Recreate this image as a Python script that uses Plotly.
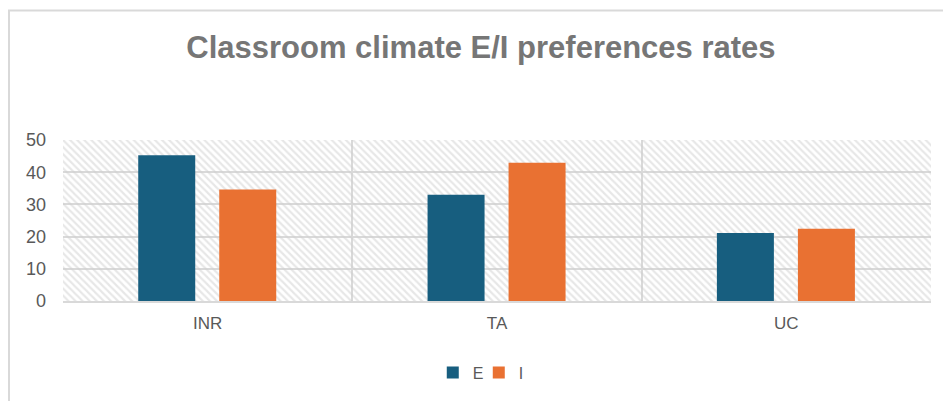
import plotly.graph_objects as go

categories = ["INR", "TA", "UC"]
series_e = [45.3, 33.0, 21.1]
series_i = [34.6, 42.9, 22.4]
y_ticks = [0, 10, 20, 30, 40, 50]
title_text = "Classroom climate E/I preferences rates"

W, H = 943, 401
ML, MR, MT, MB = 63, 12, 140, 98
pw = W - ML - MR
ph = H - MT - MB

fig = go.Figure()

# hatched plot-area background
fig.add_trace(go.Bar(
    x=[categories[1]], y=[y_ticks[-1]], width=[3], offset=-1.5,
    marker=dict(color="rgba(0,0,0,0)", line=dict(width=0),
                pattern=dict(shape="\\", fgcolor="#d0d0d0", bgcolor="rgba(0,0,0,0)",
                             size=5, solidity=0.45)),
    showlegend=False, hoverinfo="skip",
))

fig.add_trace(go.Bar(x=categories, y=series_e, name="E", width=0.197, offset=-0.24,
                     marker=dict(color="#175E7F", line=dict(width=0))))
fig.add_trace(go.Bar(x=categories, y=series_i, name="I", width=0.197, offset=0.04,
                     marker=dict(color="#E97132", line=dict(width=0))))

# outer chart border
x0 = (9 - ML) / pw
y1 = (H - MB - 9) / ph
fig.add_shape(type="rect", xref="paper", yref="paper", x0=x0, x1=1.2, y0=-1.0, y1=y1,
              line=dict(color="#d9d9d9", width=2), layer="below")

fig.update_layout(
    width=W, height=H,
    margin=dict(l=ML, r=MR, t=MT, b=MB),
    barmode="overlay",
    paper_bgcolor="white", plot_bgcolor="white",
    font=dict(family="Liberation Sans, Arial, sans-serif", color="#595959"),
    title=dict(text="<b>" + title_text + "</b>", x=0.51, xanchor="center",
               y=1 - 47 / H, yanchor="middle",
               font=dict(size=31, color="#767676")),
    legend=dict(orientation="h", x=0.479, xanchor="center", y=-0.445, yanchor="middle",
                font=dict(size=16, color="#595959"), itemwidth=30,
                entrywidth=1, entrywidthmode="pixels", traceorder="normal"),
    xaxis=dict(type="category", categoryorder="array", categoryarray=categories,
               range=[-0.5, 2.5], tickson="boundaries",
               showgrid=True, gridcolor="#d9d9d9", gridwidth=1.5,
               showline=True, linecolor="#d9d9d9", linewidth=2,
               ticks="", tickfont=dict(size=17, color="#595959"), ticklabelstandoff=6,
               fixedrange=True),
    yaxis=dict(range=[0, 50], tickvals=y_ticks, showgrid=True, gridcolor="#d9d9d9",
               gridwidth=1.5, zeroline=False, showline=False, ticks="",
               tickfont=dict(size=18, color="#595959"), ticklabelstandoff=16),
)

fig.write_html("out.html")
